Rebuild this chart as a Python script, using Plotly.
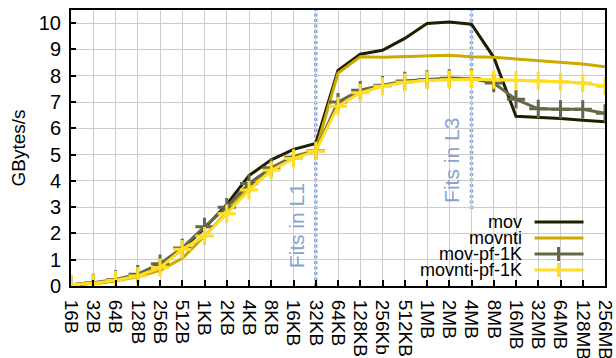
import plotly.graph_objects as go

sizes = ["16B", "32B", "64B", "128B", "256B", "512B", "1KB", "2KB", "4KB", "8KB",
         "16KB", "32KB", "64KB", "128KB", "256Kb", "512KB", "1MB", "2MB", "4MB",
         "8MB", "16MB", "32MB", "64MB", "128MB", "256MB"]

mov = [0.05, 0.1, 0.2, 0.4, 0.75, 1.4, 2.2, 3.1, 4.2, 4.8, 5.2, 5.42,
       8.2, 8.82, 8.97, 9.42, 9.99, 10.04, 9.96, 8.7, 6.46, 6.42, 6.37, 6.31, 6.25]
movnti = [0.05, 0.1, 0.2, 0.35, 0.6, 1.05, 1.9, 2.8, 3.8, 4.5, 4.95, 5.15,
          8.1, 8.72, 8.7, 8.72, 8.75, 8.78, 8.72, 8.7, 8.64, 8.58, 8.5, 8.45, 8.34]
mov_pf = [0.05, 0.12, 0.25, 0.45, 0.85, 1.45, 2.25, 3.0, 3.9, 4.5, 4.9, 5.15,
          7.0, 7.45, 7.64, 7.8, 7.86, 7.9, 7.89, 7.72, 7.1, 6.74, 6.72, 6.72, 6.57]
movnti_pf = [0.05, 0.1, 0.22, 0.38, 0.7, 1.4, 1.9, 2.75, 3.65, 4.4, 4.85, 5.14,
             6.84, 7.35, 7.6, 7.75, 7.82, 7.85, 7.87, 7.85, 7.83, 7.8, 7.77, 7.72, 7.6]

series_names = ["mov", "movnti", "mov-pf-1K", "movnti-pf-1K"]
series_vals = [mov, movnti, mov_pf, movnti_pf]
colors = ["#1f1f00", "#ccaa00", "#666648", "#ffdd22"]
has_marker = [False, False, True, True]

cache_marks = [("32KB", "Fits in L1", 2.28), ("4MB", "Fits in L3", 4.76)]

FONT = "Liberation Sans, Arial, sans-serif"
fig = go.Figure()
xs = list(range(len(sizes)))
for name, vals, col, mk in zip(series_names, series_vals, colors, has_marker):
    fig.add_trace(go.Scatter(
        x=xs, y=vals, name=name, mode="lines+markers" if mk else "lines",
        line=dict(color=col, width=3),
        marker=dict(symbol="cross-thin-open", size=13, line=dict(color=col, width=3)) if mk else None,
        showlegend=False, hoverinfo="skip"))

shapes = []
annotations = []
for cat, txt, ypos in cache_marks:
    xi = sizes.index(cat)
    shapes.append(dict(type="line", xref="x", yref="paper", x0=xi, x1=xi, y0=0, y1=1,
                       line=dict(color="#8aa8d2", width=3.5, dash="3px,2.5px"), layer="between"))
    annotations.append(dict(x=xi, y=ypos, xref="x", yref="y", text=txt, textangle=-90,
                            showarrow=False, xanchor="right", yanchor="middle", xshift=-6,
                            font=dict(family=FONT, size=21, color="#86a4cc")))

# gnuplot-style legend (text left, sample right) in paper coordinates
L, R, T, B = 71, 605.5, 10, 286
def px(x):
    return (x - L) / (R - L)
def py(y):
    return (B - y) / (B - T)

shapes.append(dict(type="rect", xref="paper", yref="paper", x0=px(397), x1=px(595),
                   y0=0, y1=py(210), fillcolor="white", line=dict(width=0), layer="between"))
for i, (name, col, mk) in enumerate(zip(series_names, colors, has_marker)):
    yy = 222 + 16 * i
    annotations.append(dict(x=px(524), y=py(yy), xref="paper", yref="paper", text=name,
                            showarrow=False, xanchor="right", yanchor="middle",
                            font=dict(family=FONT, size=18, color="black")))
    shapes.append(dict(type="line", xref="paper", yref="paper", x0=px(535), x1=px(584),
                       y0=py(yy), y1=py(yy), line=dict(color=col, width=3), layer="above"))
    if mk:
        shapes.append(dict(type="line", xref="paper", yref="paper", x0=px(559), x1=px(559),
                           y0=py(yy - 7), y1=py(yy + 7), line=dict(color=col, width=3), layer="above"))

fig.update_layout(
    width=616, height=358,
    margin=dict(l=71, r=10.5, t=10, b=72),
    paper_bgcolor="white", plot_bgcolor="white",
    font=dict(family=FONT, size=19, color="black"),
    shapes=shapes, annotations=annotations,
)
fig.update_xaxes(
    range=[0, len(sizes) - 1], tickmode="array", tickvals=xs, ticktext=sizes,
    tickangle=90, showgrid=True, gridcolor="#cccccc", gridwidth=1,
    showline=True, linecolor="black", linewidth=2, mirror=True,
    ticks="inside", ticklen=6, tickcolor="black", tickwidth=1.5,
    tickfont=dict(family=FONT, size=19), zeroline=False,
    ticklabelstandoff=8, automargin=False,
)
fig.update_yaxes(
    range=[0, 10.5], tickmode="array", tickvals=list(range(0, 11)),
    showgrid=True, gridcolor="#cccccc", gridwidth=1,
    showline=True, linecolor="black", linewidth=2, mirror=True,
    ticks="inside", ticklen=5, tickcolor="black", tickwidth=1.5,
    tickfont=dict(family=FONT, size=20), zeroline=False,
    ticklabelstandoff=4, automargin=False,
    title=dict(text="GBytes/s", font=dict(family=FONT, size=19), standoff=8),
)
fig.write_html("out.html", config={"displayModeBar": False},
               post_script="document.body.style.margin='0';")
